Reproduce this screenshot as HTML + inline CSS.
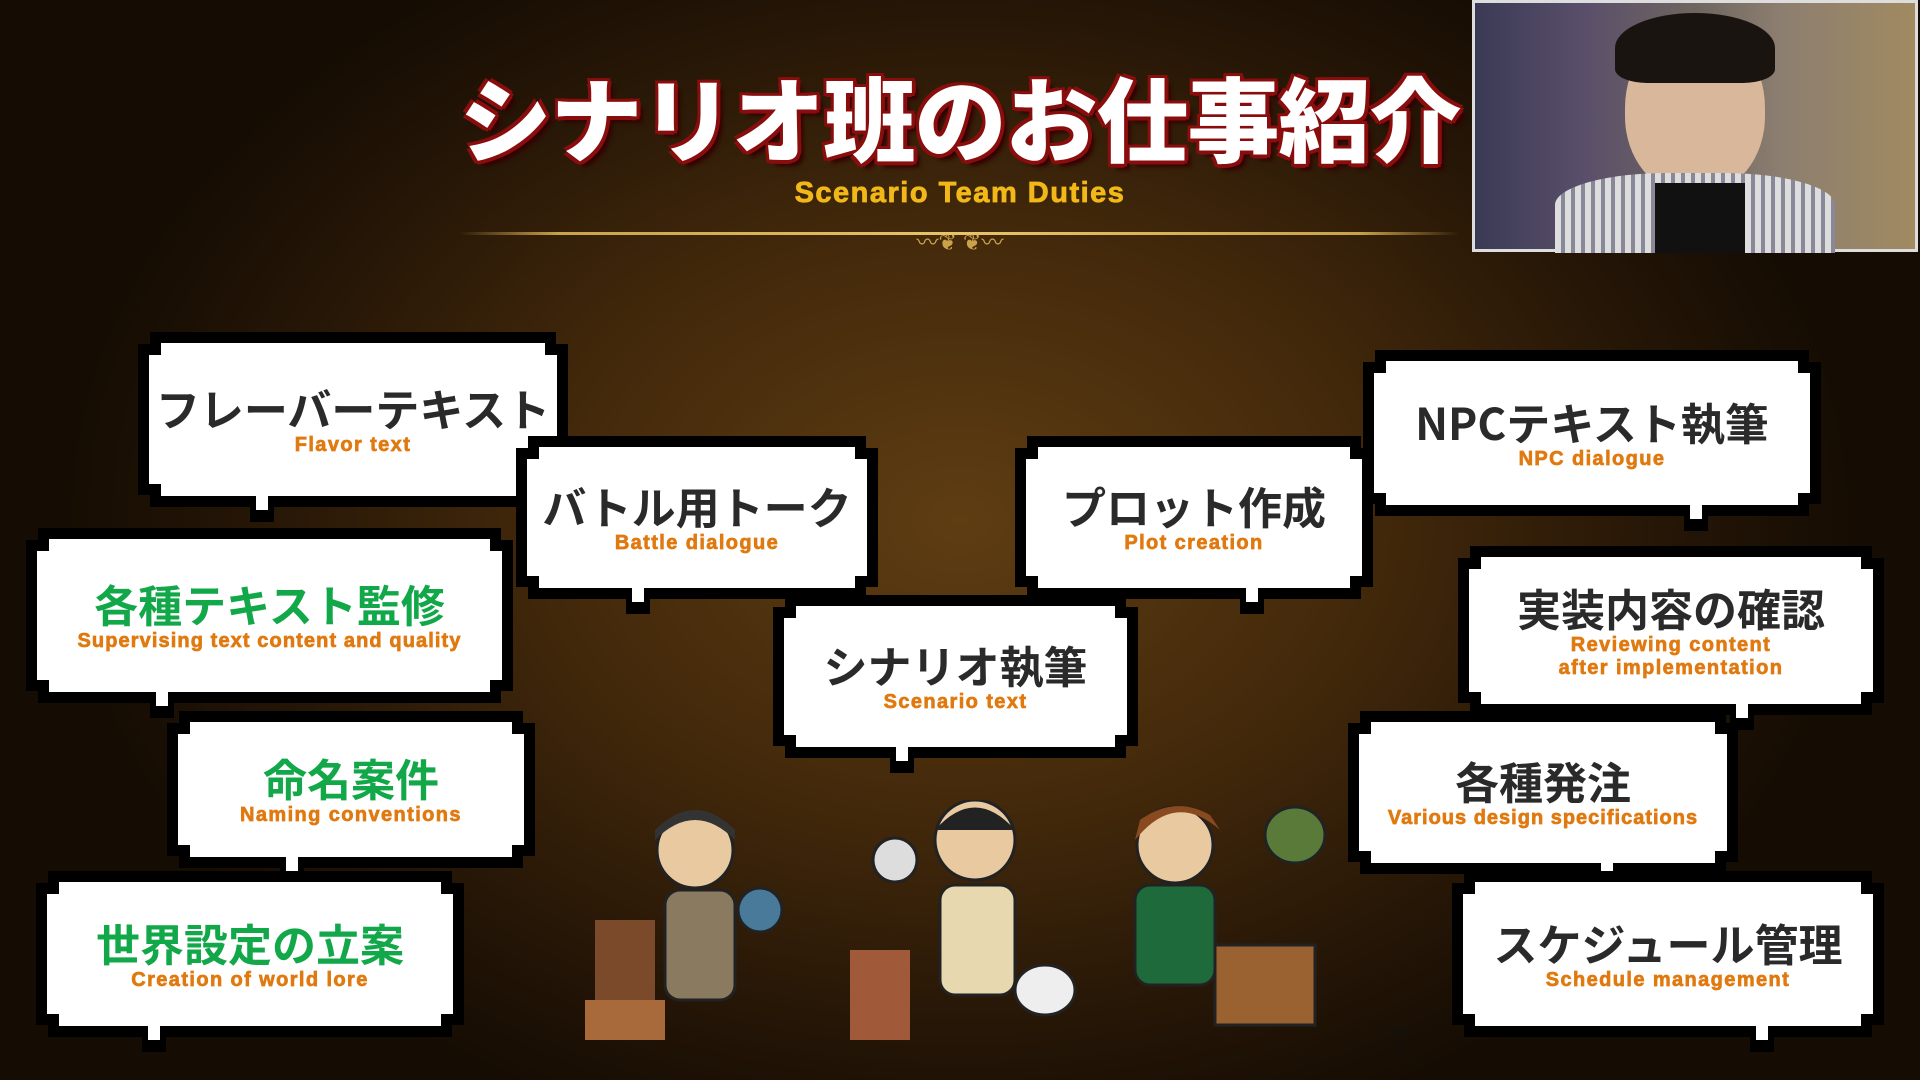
<!DOCTYPE html>
<html><head><meta charset="utf-8"><style>
*{margin:0;padding:0;box-sizing:border-box}
body{width:1920px;height:1080px;overflow:hidden;position:relative;
background:radial-gradient(ellipse 900px 650px at 960px 520px,#5e3d12 0%,#43290b 45%,#241506 80%,#150c03 100%);
font-family:"Liberation Sans","Noto Sans CJK JP",sans-serif}
.title{position:absolute;left:430px;top:56px;width:1060px;text-align:center;font-size:92px;font-weight:900;color:#fff;
font-family:"Noto Sans CJK JP",sans-serif;letter-spacing:-1px;line-height:120px;
text-shadow:3px 3px 0 #8a0d0d,-3px -3px 0 #8a0d0d,3px -3px 0 #8a0d0d,-3px 3px 0 #8a0d0d,0 4px 0 #8a0d0d,4px 0 0 #8a0d0d,6px 6px 4px #300}
.sub{position:absolute;left:460px;top:177px;width:1000px;text-align:center;font-size:29px;font-weight:bold;color:#f2b818;letter-spacing:1.5px;-webkit-text-stroke:0.8px #f2b818}
.line{position:absolute;left:459px;top:232px;width:1000px;height:3px;background:linear-gradient(90deg,transparent,#c9a24a 10%,#e8c46a 50%,#c9a24a 90%,transparent)}
.orn{position:absolute;left:850px;top:232px;width:220px;height:24px;color:#c9a24a;font-size:22px;text-align:center;line-height:22px}
.b{position:absolute}
.b .k,.b .w{position:absolute;--s:12px;clip-path:polygon(var(--s) 0,calc(100% - var(--s)) 0,calc(100% - var(--s)) var(--s),100% var(--s),100% calc(100% - var(--s)),calc(100% - var(--s)) calc(100% - var(--s)),calc(100% - var(--s)) 100%,var(--s) 100%,var(--s) calc(100% - var(--s)),0 calc(100% - var(--s)),0 var(--s),var(--s) var(--s))}
.b .k{inset:-11px;background:#000}
.b .w{inset:0;background:#fff;display:flex;flex-direction:column;align-items:center;justify-content:center}
.tk{position:absolute;width:24px;height:26px;background:#000}
.tw{position:absolute;width:12px;height:16px;background:#fff}
.j{font-family:"Noto Sans CJK JP",sans-serif;font-weight:bold;font-size:44px;color:#2a2a2a;line-height:50px;white-space:nowrap}
.j.g{color:#12a84a}
.e{font-weight:bold;font-size:20px;color:#e07a10;line-height:23px;text-align:center;white-space:nowrap;letter-spacing:1.4px;-webkit-text-stroke:0.7px #e07a10;margin-top:2px}
.cam{position:absolute;left:1472px;top:0;width:446px;height:252px;border:3px solid #ddd;
background:linear-gradient(90deg,#3a3a55 0%,#5a4f6a 25%,#6f6560 50%,#8d7f70 70%,#a08a60 100%)}
</style></head><body>
<div class="title">シナリオ班のお仕事紹介</div>
<div class="sub">Scenario Team Duties</div>
<div class="line"></div>
<div class="orn">〰❦ ❦〰</div>

<div class="cam">
 <div style="position:absolute;left:150px;top:20px;width:140px;height:170px;border-radius:50% 50% 45% 45%;background:#d9b79a"></div>
 <div style="position:absolute;left:140px;top:10px;width:160px;height:70px;border-radius:50% 50% 20% 20%;background:#1a1410"></div>
 <div style="position:absolute;left:80px;top:170px;width:280px;height:80px;border-radius:40% 40% 0 0;background:repeating-linear-gradient(90deg,#ddd 0 6px,#889 6px 10px)"></div>
 <div style="position:absolute;left:180px;top:180px;width:90px;height:70px;background:#111"></div>
</div>

<div class="b" style="left:149px;top:343px;width:408px;height:153px"><div class="k"></div><div class="w"><div class="j">フレーバーテキスト</div><div class="e">Flavor text</div></div></div>
<div class="tk" style="left:250px;top:496px"></div><div class="tw" style="left:256px;top:494px"></div>

<div class="b" style="left:527px;top:447px;width:340px;height:141px"><div class="k"></div><div class="w"><div class="j">バトル用トーク</div><div class="e">Battle dialogue</div></div></div>
<div class="tk" style="left:626px;top:588px"></div><div class="tw" style="left:632px;top:586px"></div>

<div class="b" style="left:1026px;top:447px;width:336px;height:141px"><div class="k"></div><div class="w"><div class="j">プロット作成</div><div class="e">Plot creation</div></div></div>
<div class="tk" style="left:1240px;top:588px"></div><div class="tw" style="left:1246px;top:586px"></div>

<div class="b" style="left:1374px;top:361px;width:436px;height:144px"><div class="k"></div><div class="w"><div class="j">NPCテキスト執筆</div><div class="e">NPC dialogue</div></div></div>
<div class="tk" style="left:1684px;top:505px"></div><div class="tw" style="left:1690px;top:503px"></div>

<div class="b" style="left:37px;top:539px;width:465px;height:153px"><div class="k"></div><div class="w"><div class="j g">各種テキスト監修</div><div class="e" style="letter-spacing:1.1px">Supervising text content and quality</div></div></div>
<div class="tk" style="left:150px;top:692px"></div><div class="tw" style="left:156px;top:690px"></div>

<div class="b" style="left:784px;top:606px;width:343px;height:141px"><div class="k"></div><div class="w"><div class="j">シナリオ執筆</div><div class="e">Scenario text</div></div></div>
<div class="tk" style="left:890px;top:747px"></div><div class="tw" style="left:896px;top:745px"></div>

<div class="b" style="left:1469px;top:557px;width:404px;height:147px"><div class="k"></div><div class="w"><div class="j">実装内容の確認</div><div class="e">Reviewing content<br>after implementation</div></div></div>
<div class="tk" style="left:1730px;top:704px"></div><div class="tw" style="left:1736px;top:702px"></div>

<div class="b" style="left:178px;top:722px;width:346px;height:135px"><div class="k"></div><div class="w"><div class="j g">命名案件</div><div class="e">Naming conventions</div></div></div>
<div class="tk" style="left:280px;top:857px"></div><div class="tw" style="left:286px;top:855px"></div>

<div class="b" style="left:1359px;top:722px;width:368px;height:141px"><div class="k"></div><div class="w"><div class="j">各種発注</div><div class="e" style="letter-spacing:1px">Various design specifications</div></div></div>
<div class="tk" style="left:1595px;top:863px"></div><div class="tw" style="left:1601px;top:861px"></div>

<div class="b" style="left:47px;top:882px;width:406px;height:144px"><div class="k"></div><div class="w"><div class="j g">世界設定の立案</div><div class="e">Creation of world lore</div></div></div>
<div class="tk" style="left:142px;top:1026px"></div><div class="tw" style="left:148px;top:1024px"></div>

<div class="b" style="left:1463px;top:882px;width:410px;height:144px"><div class="k"></div><div class="w"><div class="j">スケジュール管理</div><div class="e">Schedule management</div></div></div>
<div class="tk" style="left:1750px;top:1026px"></div><div class="tw" style="left:1756px;top:1024px"></div>

<svg style="position:absolute;left:585px;top:800px" width="520" height="260">
 <rect x="10" y="120" width="60" height="120" fill="#7a4a2a"/>
 <rect x="0" y="200" width="80" height="40" fill="#a86a3a"/>
 <circle cx="110" cy="50" r="38" fill="#e8c9a0" stroke="#222" stroke-width="3"/>
 <path d="M70 40 Q110 0 150 40 L150 30 Q110 -10 70 30Z" fill="#333"/>
 <rect x="80" y="90" width="70" height="110" rx="15" fill="#8a7a60" stroke="#222" stroke-width="3"/>
 <circle cx="175" cy="110" r="22" fill="#4a7a9a" stroke="#222" stroke-width="3"/>
 <rect x="265" y="150" width="60" height="90" fill="#a05a3a"/>
 <circle cx="390" cy="40" r="40" fill="#e8c9a0" stroke="#222" stroke-width="3"/>
 <path d="M350 30 Q390 -15 430 30Z" fill="#222"/>
 <rect x="355" y="85" width="75" height="110" rx="15" fill="#e8d8b0" stroke="#222" stroke-width="3"/>
 <ellipse cx="460" cy="190" rx="30" ry="25" fill="#eee" stroke="#222" stroke-width="3"/>
 <circle cx="310" cy="60" r="22" fill="#ddd" stroke="#222" stroke-width="3"/>
</svg>
<svg style="position:absolute;left:1115px;top:795px" width="230" height="250">
 <circle cx="60" cy="50" r="38" fill="#e8c9a0" stroke="#222" stroke-width="3"/>
 <path d="M20 45 Q60 -5 105 35 L95 20 Q60 0 25 25Z" fill="#8a4a20"/>
 <rect x="20" y="90" width="80" height="100" rx="15" fill="#1f6a3a" stroke="#222" stroke-width="3"/>
 <rect x="100" y="150" width="100" height="80" fill="#9a6230" stroke="#222" stroke-width="3"/>
 <ellipse cx="180" cy="40" rx="30" ry="28" fill="#5a7a3a" stroke="#222" stroke-width="3"/>
</svg>
<div style="position:absolute;left:1390px;top:1020px;font-size:36px;color:#111;font-family:'Liberation Serif',serif">7</div>
</body></html>
